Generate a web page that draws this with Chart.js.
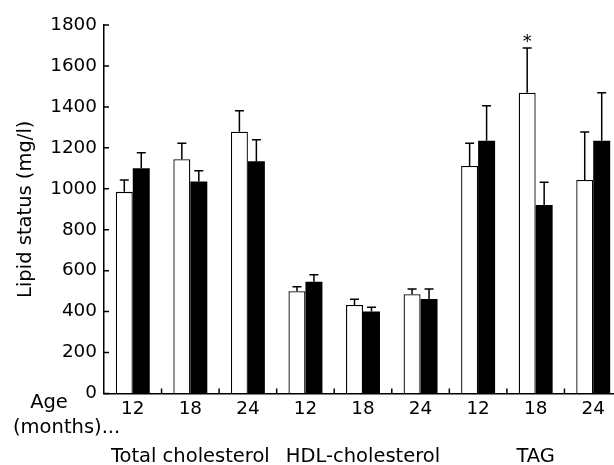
<!DOCTYPE html>
<html lang="en">
<head>
  <meta charset="UTF-8" />
  <title>Lipid status by age</title>
  <script src="https://cdn.jsdelivr.net/npm/chart.js"></script>
  <style>
    html, body {
      margin: 0;
      padding: 0;
      background: #fff;
      overflow: hidden;
    }
    /* a little wider than the window: the last bar pair is cut off in the original */
    .wrap {
      position: absolute;
      left: 0;
      top: 0;
      width: 622px;
      height: 465px;
    }
  </style>
</head>
<body>
  <div class="wrap">
    <canvas id="lipidChart" role="img" aria-label="Lipid status by age bar chart"></canvas>
  </div>

  <script>
    // data
    const ageLabels = ['12', '18', '24', '12', '18', '24', '12', '18', '24'];
    const groupLabels = ['Total cholesterol', 'HDL-cholesterol', 'TAG'];
    const whiteMeans = [985, 1144, 1279, 500, 432, 485, 1111, 1469, 1043];
    const whiteErr = [58, 78, 102, 22, 28, 25, 111, 219, 234];
    const blackMeans = [1100, 1035, 1134, 546, 401, 462, 1235, 921, 1235];
    const blackErr = [76, 53, 106, 34, 20, 48, 171, 111, 234];
    const whiteMarks = ['', '', '', '', '', '', '', '*', ''];
    const yTicks = [0, 200, 400, 600, 800, 1000, 1200, 1400, 1600, 1800];

    // group name sits under the middle age of each block of three
    const groupRow = ageLabels.map((_, i) => (i % 3 === 1 ? groupLabels[Math.floor(i / 3)] : ''));

    const FONT = 'DejaVu Sans';
    Chart.defaults.font.family = FONT;
    Chart.defaults.color = '#000';

    const errorBars = {
      id: 'errorBars',
      afterDatasetsDraw(chart) {
        const { ctx, scales: { y } } = chart;
        const errs = [whiteErr, blackErr];
        ctx.save();
        ctx.strokeStyle = '#000';
        ctx.lineWidth = 1.5;
        chart.data.datasets.forEach((ds, di) => {
          const meta = chart.getDatasetMeta(di);
          meta.data.forEach((bar, i) => {
            const top = y.getPixelForValue(ds.data[i] + errs[di][i]);
            ctx.beginPath();
            ctx.moveTo(bar.x, bar.y);
            ctx.lineTo(bar.x, top);
            ctx.moveTo(bar.x - 4.5, top);
            ctx.lineTo(bar.x + 4.5, top);
            ctx.stroke();
            if (di === 0 && whiteMarks[i]) {
              ctx.font = '18px ' + FONT;
              ctx.fillStyle = '#000';
              ctx.textAlign = 'center';
              ctx.textBaseline = 'alphabetic';
              ctx.fillText(whiteMarks[i], bar.x, top - 1);
            }
          });
        });
        ctx.restore();
      }
    };

    // inward tick marks plus the "Age (months)..." caption
    const axisExtras = {
      id: 'axisExtras',
      afterDraw(chart) {
        const { ctx, chartArea, scales: { x, y } } = chart;
        ctx.save();
        ctx.strokeStyle = '#000';
        ctx.lineWidth = 1.5;
        ctx.beginPath();
        yTicks.forEach(v => {
          const py = y.getPixelForValue(v);
          ctx.moveTo(chartArea.left, py);
          ctx.lineTo(chartArea.left + 5, py);
        });
        const step = (x.right - x.left) / ageLabels.length;
        for (let i = 1; i < ageLabels.length; i++) {
          const px = x.left + step * i;
          ctx.moveTo(px, chartArea.bottom);
          ctx.lineTo(px, chartArea.bottom - 5);
        }
        ctx.stroke();

        ctx.fillStyle = '#000';
        ctx.font = '19.5px ' + FONT;
        ctx.textBaseline = 'middle';
        ctx.textAlign = 'center';
        ctx.fillText('Age', chartArea.left - 55, chartArea.bottom + 9);
        ctx.textAlign = 'left';
        ctx.fillText('(months)...', chartArea.left - 91, chartArea.bottom + 34);
        ctx.restore();
      }
    };

    const ctx = document.getElementById('lipidChart').getContext('2d');
    new Chart(ctx, {
      type: 'bar',
      data: {
        labels: ageLabels,
        datasets: [
          {
            label: 'White',
            data: whiteMeans,
            backgroundColor: '#fff',
            borderColor: '#000',
            borderWidth: 1.3,
            categoryPercentage: 0.59,
            barPercentage: 1
          },
          {
            label: 'Black',
            data: blackMeans,
            backgroundColor: '#000',
            borderColor: '#000',
            borderWidth: 0,
            categoryPercentage: 0.59,
            barPercentage: 1
          }
        ]
      },
      options: {
        responsive: true,
        maintainAspectRatio: false,
        animation: false,
        layout: { padding: { top: 25, left: 0, right: 0, bottom: 0 } },
        plugins: {
          legend: { display: false },
          tooltip: { enabled: false }
        },
        scales: {
          y: {
            min: 0,
            max: 1800,
            afterFit: s => { s.width = 104; },
            afterBuildTicks: s => { s.ticks = yTicks.map(v => ({ value: v })); },
            ticks: { padding: 7, font: { size: 18.4 }, callback: v => String(v) },
            grid: { drawOnChartArea: false, drawTicks: false },
            border: { display: true, color: '#000', width: 1.5 },
            title: {
              display: true,
              text: 'Lipid status (mg/l)',
              font: { size: 19.5 },
              padding: { top: 14, bottom: 0 }
            }
          },
          x: {
            weight: 0,
            afterFit: s => { s.height = 30; },
            ticks: { padding: 5, font: { size: 18.4 }, maxRotation: 0, minRotation: 0, autoSkip: false },
            grid: { drawOnChartArea: false, drawTicks: false },
            border: { display: true, color: '#000', width: 1.5 }
          },
          x2: {
            type: 'category',
            position: 'bottom',
            weight: 1,
            labels: groupRow,
            offset: true,
            afterFit: s => { s.height = 41.5; },
            ticks: { padding: 22, font: { size: 19.5 }, maxRotation: 0, minRotation: 0, autoSkip: false },
            grid: { display: false, drawTicks: false },
            border: { display: false }
          }
        }
      },
      plugins: [errorBars, axisExtras]
    });
  </script>
</body>
</html>
